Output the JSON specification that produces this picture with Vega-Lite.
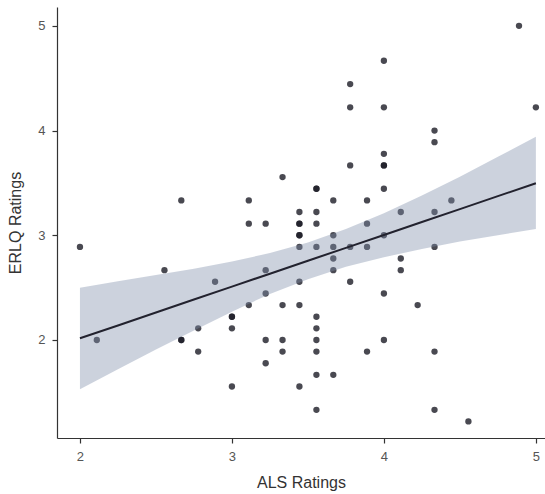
{
  "$schema": "https://vega.github.io/schema/vega-lite/v6.json",
  "autosize": {"type": "none"},
  "padding": {"left": 57, "top": 7, "right": 0, "bottom": 56},
  "width": 488,
  "height": 431,
  "background": "white",
  "config": {
    "view": {"stroke": null},
    "axis": {
      "grid": false,
      "domainColor": "#333333",
      "domainWidth": 1.2,
      "tickColor": "#333333",
      "tickWidth": 1.2,
      "tickSize": 5,
      "labelColor": "#555555",
      "labelFont": "Liberation Sans",
      "labelFontSize": 13,
      "titleFont": "Liberation Sans",
      "titleFontSize": 16,
      "titleFontWeight": "normal",
      "titleColor": "#333333"
    }
  },
  "datasets": {
    "pts": [
      {"als": 2.000, "erlq": 2.889},
      {"als": 2.111, "erlq": 2.000},
      {"als": 2.556, "erlq": 2.667},
      {"als": 2.667, "erlq": 3.333},
      {"als": 2.667, "erlq": 2.000},
      {"als": 2.667, "erlq": 2.000},
      {"als": 2.778, "erlq": 2.111},
      {"als": 2.778, "erlq": 1.889},
      {"als": 2.889, "erlq": 2.556},
      {"als": 3.000, "erlq": 2.222},
      {"als": 3.000, "erlq": 2.222},
      {"als": 3.000, "erlq": 2.111},
      {"als": 3.000, "erlq": 1.556},
      {"als": 3.111, "erlq": 3.333},
      {"als": 3.111, "erlq": 3.111},
      {"als": 3.111, "erlq": 2.333},
      {"als": 3.222, "erlq": 3.111},
      {"als": 3.222, "erlq": 2.667},
      {"als": 3.222, "erlq": 2.444},
      {"als": 3.222, "erlq": 2.000},
      {"als": 3.222, "erlq": 1.778},
      {"als": 3.333, "erlq": 3.556},
      {"als": 3.333, "erlq": 2.333},
      {"als": 3.333, "erlq": 2.000},
      {"als": 3.333, "erlq": 1.889},
      {"als": 3.444, "erlq": 3.222},
      {"als": 3.444, "erlq": 3.111},
      {"als": 3.444, "erlq": 3.111},
      {"als": 3.444, "erlq": 3.000},
      {"als": 3.444, "erlq": 3.000},
      {"als": 3.444, "erlq": 2.889},
      {"als": 3.444, "erlq": 2.556},
      {"als": 3.444, "erlq": 2.333},
      {"als": 3.444, "erlq": 1.556},
      {"als": 3.556, "erlq": 3.444},
      {"als": 3.556, "erlq": 3.444},
      {"als": 3.556, "erlq": 3.222},
      {"als": 3.556, "erlq": 3.111},
      {"als": 3.556, "erlq": 2.889},
      {"als": 3.556, "erlq": 2.222},
      {"als": 3.556, "erlq": 2.111},
      {"als": 3.556, "erlq": 2.000},
      {"als": 3.556, "erlq": 1.889},
      {"als": 3.556, "erlq": 1.667},
      {"als": 3.556, "erlq": 1.333},
      {"als": 3.667, "erlq": 3.333},
      {"als": 3.667, "erlq": 3.000},
      {"als": 3.667, "erlq": 2.889},
      {"als": 3.667, "erlq": 2.778},
      {"als": 3.667, "erlq": 2.667},
      {"als": 3.667, "erlq": 1.667},
      {"als": 3.778, "erlq": 4.444},
      {"als": 3.778, "erlq": 4.222},
      {"als": 3.778, "erlq": 3.667},
      {"als": 3.778, "erlq": 2.889},
      {"als": 3.778, "erlq": 2.556},
      {"als": 3.889, "erlq": 3.333},
      {"als": 3.889, "erlq": 3.111},
      {"als": 3.889, "erlq": 2.889},
      {"als": 3.889, "erlq": 1.889},
      {"als": 4.000, "erlq": 4.667},
      {"als": 4.000, "erlq": 4.222},
      {"als": 4.000, "erlq": 3.778},
      {"als": 4.000, "erlq": 3.667},
      {"als": 4.000, "erlq": 3.667},
      {"als": 4.000, "erlq": 3.444},
      {"als": 4.000, "erlq": 3.000},
      {"als": 4.000, "erlq": 2.444},
      {"als": 4.000, "erlq": 2.000},
      {"als": 4.111, "erlq": 3.222},
      {"als": 4.111, "erlq": 2.778},
      {"als": 4.111, "erlq": 2.667},
      {"als": 4.222, "erlq": 2.333},
      {"als": 4.333, "erlq": 4.000},
      {"als": 4.333, "erlq": 3.889},
      {"als": 4.333, "erlq": 3.222},
      {"als": 4.333, "erlq": 2.889},
      {"als": 4.333, "erlq": 1.889},
      {"als": 4.333, "erlq": 1.333},
      {"als": 4.444, "erlq": 3.333},
      {"als": 4.556, "erlq": 1.222},
      {"als": 4.889, "erlq": 5.000},
      {"als": 5.000, "erlq": 4.222}
    ],
    "band": [
      {"als": 2.00, "fit": 2.016, "lo": 1.53, "hi": 2.50},
      {"als": 2.25, "fit": 2.139, "lo": 1.72, "hi": 2.56},
      {"als": 2.50, "fit": 2.263, "lo": 1.91, "hi": 2.62},
      {"als": 2.75, "fit": 2.386, "lo": 2.09, "hi": 2.68},
      {"als": 3.00, "fit": 2.510, "lo": 2.27, "hi": 2.75},
      {"als": 3.25, "fit": 2.633, "lo": 2.44, "hi": 2.83},
      {"als": 3.50, "fit": 2.757, "lo": 2.58, "hi": 2.93},
      {"als": 3.75, "fit": 2.880, "lo": 2.70, "hi": 3.06},
      {"als": 4.00, "fit": 3.003, "lo": 2.79, "hi": 3.21},
      {"als": 4.25, "fit": 3.127, "lo": 2.87, "hi": 3.38},
      {"als": 4.50, "fit": 3.250, "lo": 2.94, "hi": 3.56},
      {"als": 4.75, "fit": 3.374, "lo": 3.00, "hi": 3.75},
      {"als": 5.00, "fit": 3.497, "lo": 3.06, "hi": 3.94}
    ]
  },
  "layer": [
    {
      "data": {"name": "pts"},
      "mark": {"type": "circle", "size": 40, "color": "#1c1c26", "opacity": 0.8},
      "encoding": {
        "x": {"field": "als", "type": "quantitative", "title": "ALS Ratings",
              "scale": {"domain": [1.849, 5.06], "nice": false, "zero": false},
              "axis": {"values": [2, 3, 4, 5], "format": "d", "labelPadding": 7, "titlePadding": 11}},
        "y": {"field": "erlq", "type": "quantitative", "title": "ERLQ Ratings",
              "scale": {"domain": [1.064, 5.18], "nice": false, "zero": false},
              "axis": {"values": [2, 3, 4, 5], "format": "d", "labelPadding": 7, "titlePadding": 14}}
      }
    },
    {
      "data": {"name": "band"},
      "mark": {"type": "area", "color": "#7f8fab", "opacity": 0.4},
      "encoding": {
        "x": {"field": "als", "type": "quantitative"},
        "y": {"field": "lo", "type": "quantitative"},
        "y2": {"field": "hi"}
      }
    },
    {
      "data": {"name": "band"},
      "mark": {"type": "line", "color": "#22222e", "strokeWidth": 2},
      "encoding": {
        "x": {"field": "als", "type": "quantitative"},
        "y": {"field": "fit", "type": "quantitative"}
      }
    }
  ]
}
